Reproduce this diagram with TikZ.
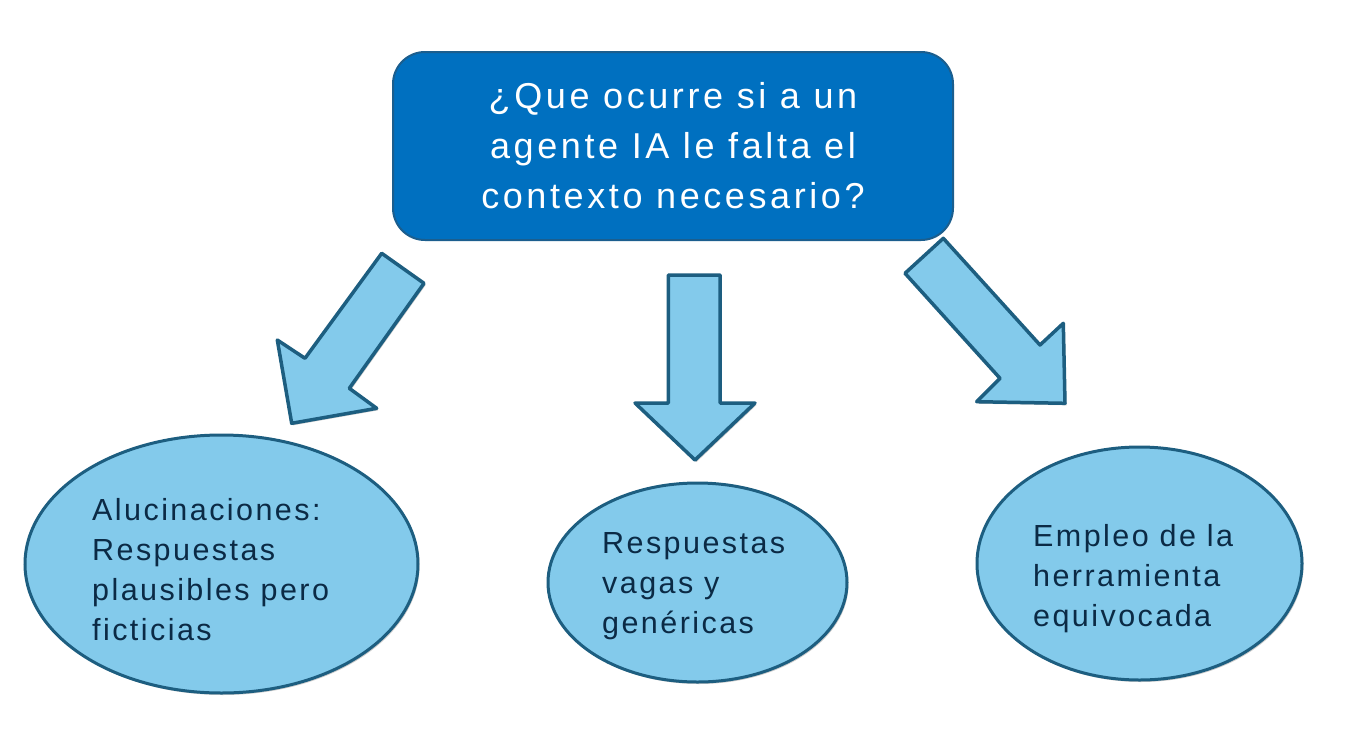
\documentclass[tikz,border=0pt]{standalone}
\usepackage{fontspec}
\setmainfont{Liberation Sans}
\newfontfamily\boxfont[LetterSpace=10]{Liberation Sans}
\newfontfamily\ellfont[LetterSpace=8]{Liberation Sans}
\usetikzlibrary{shapes.geometric,shadows}
\definecolor{topblue}{HTML}{0070C0}
\definecolor{topedge}{HTML}{1B5E8E}
\definecolor{lightblue}{HTML}{83CAEB}
\definecolor{darkedge}{HTML}{1D5E80}
\definecolor{navytext}{HTML}{0B2A45}
\tikzset{
  topbox/.style={draw=topedge, line width=2pt, fill=topblue, rounded corners=32pt,
    minimum width=560pt, minimum height=188pt, inner sep=0pt, align=center,
    text=white, font={\boxfont\fontsize{36}{50}\selectfont}},
  bubble/.style={ellipse, draw=darkedge, line width=3pt, fill=lightblue, inner sep=0pt,
    drop shadow={shadow xshift=1.5pt, shadow yshift=-2pt, opacity=.2, fill=black}},
  bubbletext/.style={anchor=north west, inner sep=0pt, align=left, text=navytext,
    font={\ellfont\fontsize{30.5}{40}\selectfont}},
  blockarrow/.style={draw=darkedge, line width=3.5pt, fill=lightblue, line join=round,
    drop shadow={shadow xshift=1.5pt, shadow yshift=-2pt, opacity=.2, fill=black}}
}
\begin{document}
\begin{tikzpicture}[x=1pt,y=-1pt]
\useasboundingbox (0,0) rectangle (1350,737);

% question box
\node[topbox] (q) at (673,146) {¿Que ocurre si a un\\agente IA le falta el\\contexto necesario?};

% block arrows
\draw[blockarrow] (381.7,253.3) -- (424,283.3) -- (349.3,388.3) -- (376.7,408.3)
  -- (291.7,423.3) -- (277.3,340) -- (305,358.3) -- cycle;
\draw[blockarrow] (668.3,275) -- (720,275) -- (720,403) -- (755,403)
  -- (695,460) -- (635,403) -- (668.3,403) -- cycle;
\draw[blockarrow] (943.3,238.3) -- (1040,345) -- (1063.3,323.3) -- (1065,403.3)
  -- (976.7,401.7) -- (1000,378.3) -- (905,273.3) -- cycle;

% outcome ellipses
\node[bubble, minimum width=393pt, minimum height=258pt] (e1) at (221.5,564) {};
\node[bubble, minimum width=299pt, minimum height=199pt] (e2) at (697.5,582.5) {};
\node[bubble, minimum width=325pt, minimum height=233pt] (e3) at (1139.5,563.5) {};

\node[bubbletext] (t1) at (92,498.5) {Alucinaciones:\\Respuestas\\plausibles pero\\ficticias};
\node[bubbletext] (t2) at (602,532.5) {Respuestas\\vagas y\\genéricas};
\node[bubbletext] (t3) at (1033,524) {Empleo de la\\herramienta\\equivocada};
\end{tikzpicture}
\end{document}
